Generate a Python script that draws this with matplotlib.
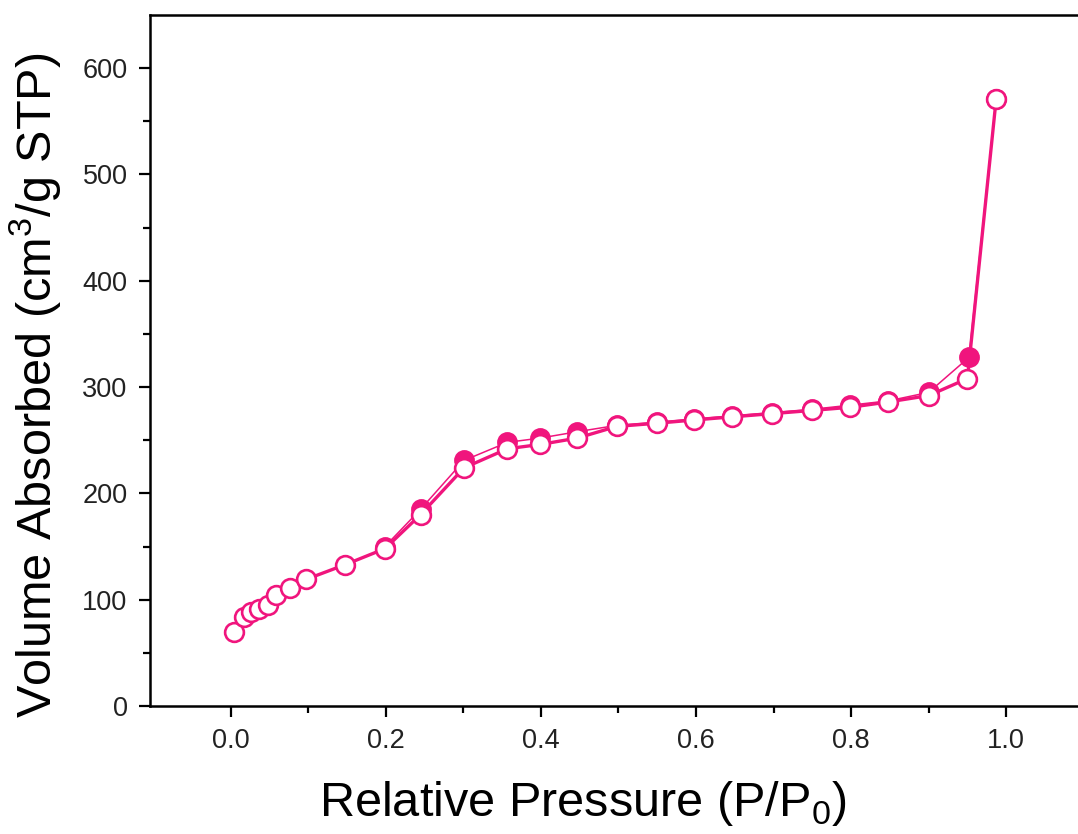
import numpy as np
import matplotlib
matplotlib.use('Agg')
import matplotlib.pyplot as plt
from matplotlib.ticker import MultipleLocator, FixedLocator

# adsorption branch (open circles)
adsPressure = [0.005, 0.017, 0.027, 0.037, 0.048, 0.058, 0.077, 0.097, 0.148, 0.199,
               0.245, 0.301, 0.357, 0.399, 0.447, 0.498, 0.550, 0.597, 0.647, 0.698,
               0.749, 0.799, 0.848, 0.900, 0.950, 0.987]
adsVolume = [70, 84, 88, 91, 95, 104, 111, 119, 133, 148,
             180, 224, 242, 246, 252, 263, 266, 269, 272, 275,
             278, 281, 286, 292, 308, 571]

# desorption branch (filled circles)
desPressure = [0.987, 0.952, 0.900, 0.848, 0.799, 0.749, 0.698, 0.647, 0.597, 0.550,
               0.498, 0.447, 0.399, 0.357, 0.301, 0.245, 0.199]
desVolume = [571, 328, 295, 287, 283, 279, 276, 273, 270, 267,
             264, 258, 252, 248, 231, 185, 150]

pink = '#F0157D'
plt.rcParams['font.family'] = ['Liberation Sans', 'DejaVu Sans']
plt.rcParams['mathtext.fontset'] = 'custom'
plt.rcParams['mathtext.rm'] = 'Liberation Sans'

fig = plt.figure(figsize=(10.78, 8.34), dpi=100)
ax = fig.add_axes([0.139, 0.1535, 0.87, 0.8285])

ax.plot(desPressure, desVolume, '-', color=pink, lw=1.1, marker='o', ms=13.5,
        mfc=pink, mec=pink, mew=1.5, zorder=2)
ax.plot(adsPressure, adsVolume, '-', color=pink, lw=2.4, marker='o', ms=13.5,
        mfc='white', mec=pink, mew=1.9, zorder=3)

ax.set_xlim(-0.104, 1.105)
ax.set_ylim(0, 650)

ax.xaxis.set_major_locator(FixedLocator([0.0, 0.2, 0.4, 0.6, 0.8, 1.0]))
ax.xaxis.set_minor_locator(FixedLocator([0.1, 0.3, 0.5, 0.7, 0.9]))
ax.yaxis.set_major_locator(MultipleLocator(100))
ax.yaxis.set_minor_locator(FixedLocator([50, 150, 250, 350, 450, 550]))
ax.set_xticks([0.0, 0.2, 0.4, 0.6, 0.8, 1.0])
ax.set_xticklabels(['0.0', '0.2', '0.4', '0.6', '0.8', '1.0'])
ax.set_yticks([0, 100, 200, 300, 400, 500, 600])

ax.tick_params(which='major', direction='out', length=8, width=1.6,
               labelsize=19.5, labelcolor='#222222', pad=8)
ax.tick_params(which='minor', direction='out', length=5, width=1.6)
ax.tick_params(top=False, right=False)

for side in ['top', 'left', 'bottom', 'right']:
    ax.spines[side].set_linewidth(1.8)

ax.set_xlabel('Relative Pressure (P/P$_0$)', fontsize=35)
ax.set_ylabel('Volume Absorbed (cm$^3$/g STP)', fontsize=35)
ax.xaxis.set_label_coords(0.462, -0.105)
ax.yaxis.set_label_coords(-0.092, 0.4645)

plt.savefig('out.png', dpi=100)
plt.close(fig)
